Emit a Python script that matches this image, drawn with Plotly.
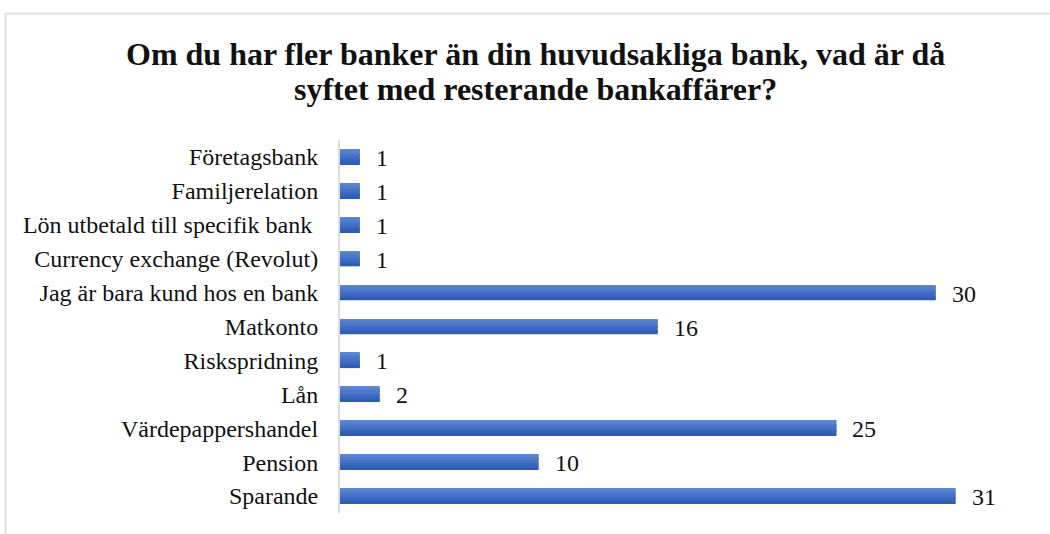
import plotly.graph_objects as go

# Survey answers: purpose of holding accounts at additional banks
categories = [
    "Företagsbank",
    "Familjerelation",
    "Lön utbetald till specifik bank\u00a0",
    "Currency exchange (Revolut)",
    "Jag är bara kund hos en bank",
    "Matkonto",
    "Riskspridning",
    "Lån",
    "Värdepappershandel",
    "Pension",
    "Sparande",
]
counts = [1, 1, 1, 1, 30, 16, 1, 2, 25, 10, 31]

title_lines = [
    "Om du har fler banker än din huvudsakliga bank, vad är då",
    "syftet med resterande bankaffärer?",
]

W, H = 1050, 534
M_L, M_R, M_T, M_B = 340, 15, 140, 21
FONT = "Liberation Serif"

# Vertical gradient on each bar, built from thin stacked strips
BAR_H = 0.442
N_STRIPS = 12
top_rgb = (93, 134, 211)
bot_rgb = (45, 91, 183)

fig = go.Figure()
step = BAR_H / N_STRIPS
for i in range(N_STRIPS):
    t = i / (N_STRIPS - 1)
    rgb = tuple(round(a + (b - a) * t) for a, b in zip(top_rgb, bot_rgb))
    fig.add_trace(go.Bar(
        x=counts,
        y=categories,
        orientation="h",
        width=step * 1.15,
        offset=-BAR_H / 2 + i * step,
        marker=dict(color="rgb(%d,%d,%d)" % rgb, line=dict(width=0)),
        hoverinfo="skip" if i else "x+y",
        showlegend=False,
    ))

# Value labels next to each bar
for c, v in zip(categories, counts):
    fig.add_annotation(
        x=v, y=c, xref="x", yref="y",
        text=str(v), showarrow=False,
        xanchor="left", yanchor="middle", xshift=14, yshift=-1,
        font=dict(family=FONT, size=24, color="#111111"),
    )

# Two-line bold title
plot_w = W - M_L - M_R
plot_h = H - M_T - M_B
def px_x(p):
    return (p - M_L) / plot_w
def px_y(p):
    return (H - M_B - p) / plot_h

for line, yc in zip(title_lines, [54, 89]):
    fig.add_annotation(
        x=px_x(535), y=px_y(yc), xref="paper", yref="paper",
        text="<b>%s</b>" % line, showarrow=False,
        xanchor="center", yanchor="middle",
        font=dict(family=FONT, size=32, color="#111111"),
    )

# Chart-area frame
fig.add_shape(
    type="rect", xref="paper", yref="paper",
    x0=px_x(5.5), x1=px_x(1060), y0=px_y(545), y1=px_y(13.5),
    line=dict(color="#dfe2e7", width=2), fillcolor="rgba(0,0,0,0)",
    layer="below",
)

fig.update_layout(
    width=W, height=H,
    margin=dict(l=M_L, r=M_R, t=M_T, b=M_B, pad=0),
    paper_bgcolor="white", plot_bgcolor="white",
    barmode="overlay",
    xaxis=dict(visible=False, range=[0, 35], fixedrange=True),
    yaxis=dict(
        type="category",
        categoryorder="array", categoryarray=categories,
        range=[10.5, -0.5],
        showline=True, linecolor="#d9dde3", linewidth=2,
        showgrid=False, zeroline=False, ticks="",
        ticklabelstandoff=15,
        tickfont=dict(family=FONT, size=24, color="#111111"),
    ),
    font=dict(family=FONT),
)

fig.write_html("out.html")
